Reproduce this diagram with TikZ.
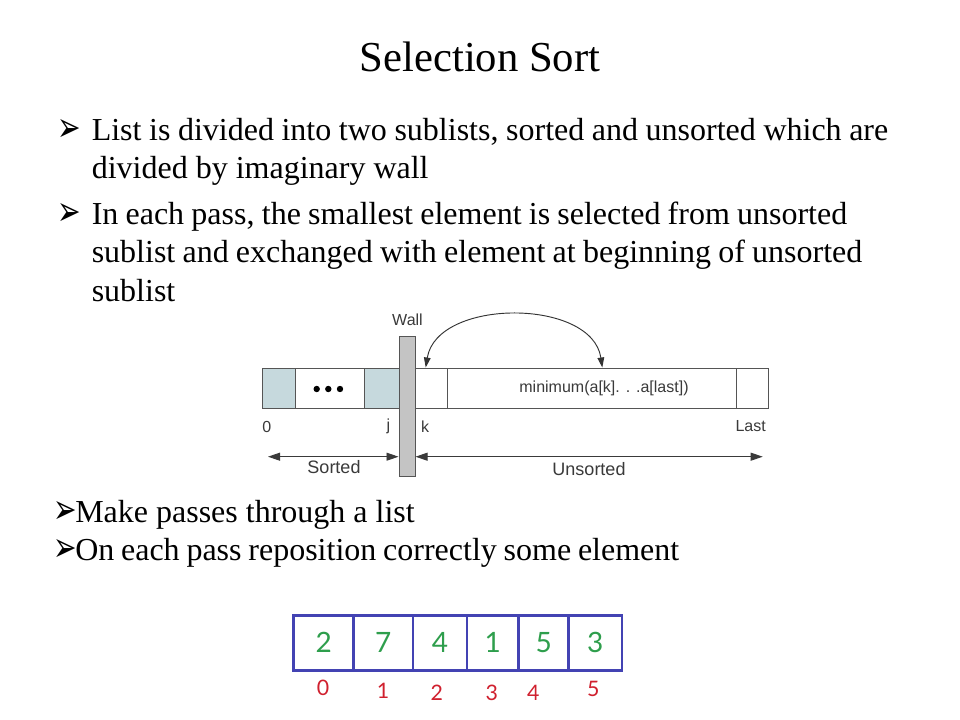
\documentclass[tikz,border=0pt]{standalone}
\usepackage{fontspec}
\usepackage{graphicx}
\setmainfont{Liberation Serif}
\newfontfamily\diagfont{Liberation Sans}
\newfontfamily\symfont{DejaVu Sans}
\newfontfamily\handfont{Lato}
\usetikzlibrary{arrows.meta}
\definecolor{cellfill}{HTML}{C6D9DD}
\definecolor{cellline}{HTML}{555555}
\definecolor{wallfill}{HTML}{C4C4C4}
\definecolor{diagtext}{HTML}{3A3A3A}
\definecolor{arrblue}{HTML}{4343B3}
\definecolor{hgreen}{HTML}{2E9E4C}
\definecolor{hred}{HTML}{D0202E}
\newcommand{\bulglyph}{\scalebox{0.68}[1]{➢}}
\begin{document}
\begin{tikzpicture}[x=0.75pt,y=-0.75pt,
  txt/.style={anchor=base west, inner sep=0pt, font=\fontsize{24}{28}\selectfont},
  bul/.style={anchor=base west, inner sep=0pt, font=\symfont\fontsize{31}{32}\selectfont},
  cell/.style={draw=cellline, line width=0.8pt, inner sep=0pt, anchor=north west, minimum height=30pt},
  shaded/.style={cell, fill=cellfill},
  dlabel/.style={inner sep=0pt, text=diagtext, font=\diagfont\fontsize{12}{14}\selectfont},
  biglabel/.style={inner sep=0pt, text=diagtext, font=\diagfont\fontsize{13.5}{16}\selectfont},
  dim/.style={draw=diagtext, line width=0.7pt, {Triangle[length=9pt,width=6pt]}-{Triangle[length=9pt,width=6pt]}},
  swap/.style={draw=black!80, line width=0.7pt, {Triangle[length=7.5pt,width=5pt]}-{Triangle[length=7.5pt,width=5pt]}},
  acell/.style={draw=arrblue, line width=2pt, inner sep=0pt, anchor=north west, minimum height=41.25pt,
    text=hgreen, font=\handfont\fontsize{21}{24}\selectfont},
  idx/.style={inner sep=0pt, text=hred, font=\handfont\fontsize{16}{18}\selectfont}
]
\useasboundingbox[fill=white] (0,0) rectangle (960,720);

% title
\node[anchor=base, inner sep=0pt, font=\fontsize{32}{38}\selectfont] (title) at (480,72) {Selection Sort};

% top bullets
\node[bul] (b1) at (57.5,141.5) {\bulglyph};
\node[txt] (l1) at (91.5,141) {\makebox[597.4pt][s]{List is divided into two sublists, sorted and unsorted which are}};
\node[txt] (l2) at (91.5,179) {divided by imaginary wall};
\node[bul] (b2) at (57.5,225.5) {\bulglyph};
\node[txt] (l3) at (91.5,225) {\makebox[566.6pt][s]{In each pass, the smallest element is selected from unsorted}};
\node[txt] (l4) at (91.5,263) {\makebox[577.9pt][s]{sublist and exchanged with element at beginning of unsorted}};
\node[txt] (l5) at (91.5,301) {sublist};

% diagram
\node[shaded, minimum width=24.75pt] (c1) at (262,368) {};
\node[cell, minimum width=51.75pt] (c2) at (295,368) {};
\node[shaded, minimum width=25.9pt] (c3) at (364,368) {};
\node[cell, minimum width=24pt] (c4) at (415,368) {};
\node[cell, minimum width=216.75pt] (c5) at (447,368) {};
\node[cell, minimum width=24pt] (c6) at (736,368) {};
\node[draw=cellline, fill=wallfill, line width=0.8pt, inner sep=0pt, anchor=north west, minimum width=12pt, minimum height=105pt] (wall) at (398.5,336) {};
\fill[black] (316.7,389) circle (3.2) (328.3,389) circle (3.2) (340,389) circle (3.2);
\node[dlabel] (minlbl) at (604,388) {minimum(a[k]. . .a[last])};

\node[dlabel] (wl) at (407.5,320) {Wall};
\node[dlabel] (i0) at (266.7,426.5) {0};
\node[dlabel] (ij) at (388.3,426.5) {j};
\node[dlabel] (ik) at (425,426.5) {k};
\node[dlabel] (il) at (750.7,426.5) {Last};

\coordinate (kt) at (425.7,367.5);
\coordinate (mt) at (602.3,367.5);
\draw[swap] (kt) .. controls (437,298) and (592,298) .. (mt);

\coordinate (sl) at (268,456.7);
\coordinate (ur) at (762.7,456.7);
\draw[dim] (sl) -- (sl -| wall.west);
\draw[dim] (sl -| wall.east) -- (ur);
\node[biglabel] (sorted) at (334,467.5) {Sorted};
\node[biglabel] (unsorted) at (589,469) {Unsorted};

% bottom bullets
\node[bul] (b3) at (53.5,523) {\bulglyph};
\node[txt] (m1) at (75,522.3) {Make passes through a list};
\node[bul] (b4) at (53.5,561.5) {\bulglyph};
\node[txt] (m2) at (75,560.7) {\makebox[453pt][s]{On each pass reposition correctly some element}};

% array
\node[acell, minimum width=45pt] (a0) at (292.3,614) {2};
\node[acell, minimum width=44.55pt] (a1) at (352.3,614) {7};
\node[acell, minimum width=40.5pt] (a2) at (411.7,614) {4};
\node[acell, minimum width=38.7pt] (a3) at (465.7,614) {1};
\node[acell, minimum width=37.5pt] (a4) at (517.3,614) {5};
\node[acell, minimum width=40.05pt] (a5) at (567.3,614) {3};

\node[idx] (n0) at (323,688) {0};
\node[idx] (n1) at (383,691) {1};
\node[idx] (n2) at (436.7,693) {2};
\node[idx] (n3) at (491.7,693) {3};
\node[idx] (n4) at (533.3,693) {4};
\node[idx] (n5) at (593.3,689) {5};
\end{tikzpicture}
\end{document}
